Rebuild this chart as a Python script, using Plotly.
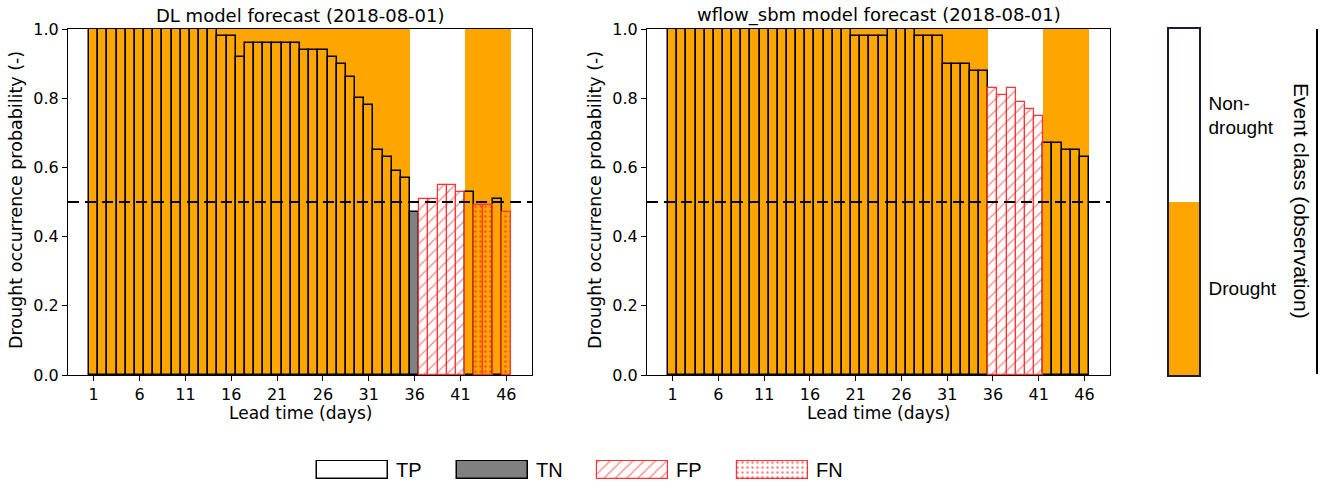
import plotly.graph_objects as go

# lead times (days) for the forecast issued 2018-08-01
lead_days = list(range(1, 47))

# observed event class per lead day (1 = drought, 0 = non-drought)
obs_drought = [1, 1, 1, 1, 1, 1, 1, 1, 1, 1, 1, 1, 1, 1, 1, 1, 1, 1, 1, 1,
               1, 1, 1, 1, 1, 1, 1, 1, 1, 1, 1, 1, 1, 1, 1,
               0, 0, 0, 0, 0, 0,
               1, 1, 1, 1, 1]

# drought occurrence probability, DL model
dl_prob = [1.00, 1.00, 1.00, 1.00, 1.00, 1.00, 1.00, 1.00, 1.00, 1.00,
           1.00, 1.00, 1.00, 1.00, 0.98, 0.98, 0.92, 0.96, 0.96, 0.96,
           0.96, 0.96, 0.96, 0.94, 0.94, 0.94, 0.92, 0.90, 0.86, 0.80,
           0.78, 0.65, 0.63, 0.59, 0.57, 0.47, 0.51, 0.51, 0.55, 0.55,
           0.53, 0.53, 0.49, 0.49, 0.51, 0.47]

# drought occurrence probability, wflow_sbm model
wflow_prob = [1.00, 1.00, 1.00, 1.00, 1.00, 1.00, 1.00, 1.00, 1.00, 1.00,
              1.00, 1.00, 1.00, 1.00, 1.00, 1.00, 1.00, 1.00, 1.00, 1.00,
              0.98, 0.98, 0.98, 0.98, 1.00, 1.00, 1.00, 0.98, 0.98, 0.98,
              0.90, 0.90, 0.90, 0.88, 0.88, 0.83, 0.81, 0.83, 0.79, 0.77,
              0.75, 0.67, 0.67, 0.65, 0.65, 0.63]

threshold = 0.5
x_ticks = [1, 6, 11, 16, 21, 26, 31, 36, 41, 46]
y_ticks = [0.0, 0.2, 0.4, 0.6, 0.8, 1.0]
classes = ['TP', 'TN', 'FP', 'FN']
cbar_classes = ['Drought', 'Non-<br>drought']

ORANGE = '#FFA500'
RED = '#FF3333'
W, H = 1325, 488
FONT = 'DejaVu Sans'
ARIAL = 'Liberation Sans'

def px_x(p):
    return p / W

def px_y(p):
    return 1 - p / H

styles = {
    'TP': dict(color='rgba(0,0,0,0)', line=dict(color='black', width=1.5)),
    'TN': dict(color='#808080', line=dict(color='black', width=1.5)),
    'FP': dict(color='rgba(0,0,0,0)', line=dict(color=RED, width=1.2),
               pattern=dict(shape='/', fgcolor='red', bgcolor='rgba(0,0,0,0)',
                            size=8, solidity=0.15)),
    'FN': dict(color='rgba(0,0,0,0)', line=dict(color=RED, width=1.2),
               pattern=dict(shape='.', fgcolor='red', bgcolor='rgba(0,0,0,0)',
                            size=5, solidity=0.18)),
}


def classify(p, o):
    if p >= threshold:
        return 'TP' if o == 1 else 'FP'
    return 'FN' if o == 1 else 'TN'


fig = go.Figure()

panels = [
    (dl_prob, 'x', 'y', 'DL model forecast (2018-08-01)'),
    (wflow_prob, 'x2', 'y2', 'wflow_sbm model forecast (2018-08-01)'),
]

for prob, xa, ya, _ in panels:
    # observed drought as background
    bx = [d for d, o in zip(lead_days, obs_drought) if o == 1]
    fig.add_trace(go.Bar(x=bx, y=[1] * len(bx), width=1.02, xaxis=xa, yaxis=ya,
                         marker=dict(color=ORANGE, line=dict(width=0)),
                         showlegend=False, hoverinfo='skip'))
    cls = [classify(p, o) for p, o in zip(prob, obs_drought)]
    for c in classes:
        xs = [d for d, k in zip(lead_days, cls) if k == c]
        ys = [p for p, k in zip(prob, cls) if k == c]
        if xs:
            fig.add_trace(go.Bar(x=xs, y=ys, width=1, xaxis=xa, yaxis=ya,
                                 marker=styles[c], name=c, showlegend=False))

# colour bar for observed class
fig.add_trace(go.Bar(x=[0, 0], y=[0.5, 0.5], base=[0, 0.5], width=1,
                     marker=dict(color=[ORANGE, 'white'], line=dict(width=0)),
                     xaxis='x3', yaxis='y3', showlegend=False, hoverinfo='skip'))

# legend patches
for i, c in enumerate(classes):
    left = 317 + 140 * i
    fig.add_trace(go.Bar(x=[71], y=[0], base=[left], width=1, orientation='h',
                         marker=styles[c], xaxis='x4', yaxis='y4',
                         showlegend=False, hoverinfo='skip'))

ydom = [px_y(375), px_y(29)]
axis_common = dict(showline=True, linecolor='black', linewidth=1, mirror=True,
                   ticks='outside', ticklen=5, tickcolor='black', showgrid=False,
                   zeroline=False, automargin=False,
                   tickfont=dict(family=FONT, size=16, color='black'))

layout = go.Layout(
    width=W, height=H, autosize=False,
    margin=dict(l=0, r=0, t=0, b=0, pad=0),
    plot_bgcolor='white', paper_bgcolor='white',
    barmode='overlay', bargap=0,
    xaxis=dict(axis_common, domain=[px_x(68), px_x(532)], range=[-1.8, 48.8],
               tickvals=x_ticks, anchor='y'),
    yaxis=dict(axis_common, domain=ydom, range=[0, 1], tickvals=y_ticks,
               tickformat='.1f', anchor='x'),
    xaxis2=dict(axis_common, domain=[px_x(647), px_x(1110)], range=[-1.8, 48.8],
                tickvals=x_ticks, anchor='y2'),
    yaxis2=dict(axis_common, domain=ydom, range=[0, 1], tickvals=y_ticks,
                tickformat='.1f', anchor='x2'),
    xaxis3=dict(domain=[px_x(1169), px_x(1199)], range=[-0.5, 0.5], showline=True,
                linecolor='#1a1a3a', linewidth=1.5, mirror=True, showticklabels=False,
                ticks='', showgrid=False, zeroline=False, automargin=False,
                anchor='y3'),
    yaxis3=dict(domain=ydom, range=[0, 1], showline=True, linecolor='#1a1a3a',
                linewidth=1.5, mirror=True, side='right', ticks='', showgrid=False,
                zeroline=False, tickvals=[0.25, 0.75], ticktext=cbar_classes,
                automargin=False, ticklabelstandoff=4,
                tickfont=dict(family=ARIAL, size=19, color='black'), anchor='x3'),
    xaxis4=dict(domain=[0, 1], range=[0, W], visible=False,
                automargin=False, anchor='y4'),
    yaxis4=dict(domain=[px_y(480), px_y(460)], range=[-0.556, 0.556], visible=False,
                automargin=False, anchor='x4'),
)
fig.update_layout(layout)

for (prob, xa, ya, title), cx, lx in zip(panels, [300, 878.5], [16, 595]):
    fig.add_annotation(text=title, x=px_x(cx), y=px_y(29) + 1 / H, xref='paper',
                       yref='paper', xanchor='center', yanchor='bottom',
                       showarrow=False, font=dict(family=FONT, size=18, color='black'))
    fig.add_annotation(text='Lead time (days)', x=px_x(cx), y=px_y(413), xref='paper',
                       yref='paper', xanchor='center', yanchor='middle',
                       showarrow=False, font=dict(family=FONT, size=17, color='black'))
    fig.add_annotation(text='Drought occurrence probability (-)', x=px_x(lx),
                       y=px_y(200), xref='paper', yref='paper', textangle=-90,
                       xanchor='center', yanchor='middle', showarrow=False,
                       font=dict(family=FONT, size=17.5, color='black'))
    fig.add_shape(type='line', xref=xa + ' domain', yref=ya, x0=0, x1=1,
                  y0=threshold, y1=threshold,
                  line=dict(color='black', width=2, dash='11px,6px'))

# colour bar title and side line
fig.add_annotation(text='Event class (observation)', x=px_x(1302), y=px_y(201),
                   xref='paper', yref='paper', textangle=90, xanchor='center',
                   yanchor='middle', showarrow=False,
                   font=dict(family=ARIAL, size=21, color='black'))
fig.add_shape(type='line', xref='paper', yref='paper', x0=px_x(1317), x1=px_x(1317),
              y0=px_y(374), y1=px_y(29), line=dict(color='black', width=2))

# legend labels
for i, c in enumerate(classes):
    fig.add_annotation(text=c, x=317 + 140 * i + 77, y=0, xref='x4', yref='y4',
                       xanchor='left', yanchor='middle', showarrow=False,
                       font=dict(family=ARIAL, size=20, color='black'))

fig.write_html('out.html', config={'displayModeBar': False},
               post_script="document.body.style.margin = '0';")
